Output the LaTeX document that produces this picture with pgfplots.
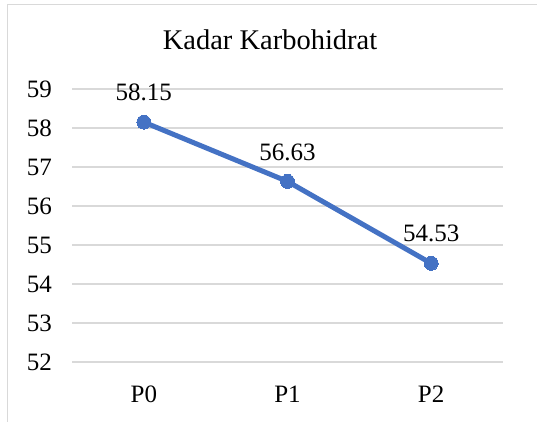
\documentclass[border=0pt]{standalone}
\usepackage{pgfplots}
\pgfplotsset{compat=1.18}
\usepackage{fontspec}
\setmainfont{Liberation Serif}
\definecolor{lineblue}{HTML}{4472C4}
\definecolor{gridgray}{HTML}{D9D9D9}
\begin{document}
\begin{tikzpicture}[x=1pt,y=1pt]
\path[use as bounding box] (0,0) rectangle (537,422);
\draw[gridgray, line width=1.5pt] (7.5,0) -- (7.5,417.5) -- (537,417.5);
\node[font=\fontsize{28.5}{30}\selectfont] at (270,382) {Kadar Karbohidrat};
\begin{axis}[
  at={(72pt,60pt)}, anchor=south west,
  scale only axis, width=431pt, height=273pt,
  xmin=-0.5, xmax=2.5, ymin=52, ymax=59,
  axis line style={draw=none},
  major tick length=0pt,
  ymajorgrids, grid style={gridgray, line width=1.3pt},
  xtick={0,1,2}, xticklabels={P0,P1,P2},
  ytick={52,53,54,55,56,57,58,59},
  /pgf/number format/assume math mode=true,
  tick label style={font=\fontsize{25}{27}\selectfont},
  yticklabel style={anchor=east, inner sep=0pt, xshift=-20pt},
  xticklabel style={anchor=north, inner sep=0pt, yshift=-24pt},
  clip=false,
]
\addplot[lineblue, line width=5pt, mark=*, mark size=7pt,
  mark options={fill=lineblue, draw=lineblue, line width=0pt},
  nodes near coords, point meta=explicit symbolic,
  every node near coord/.style={font=\fontsize{25}{27}\selectfont, text=black, anchor=south, inner sep=0pt, yshift=21pt}]
  coordinates {(0,58.15) [58.15] (1,56.63) [56.63] (2,54.53) [54.53]};
\end{axis}
\end{tikzpicture}
\end{document}
